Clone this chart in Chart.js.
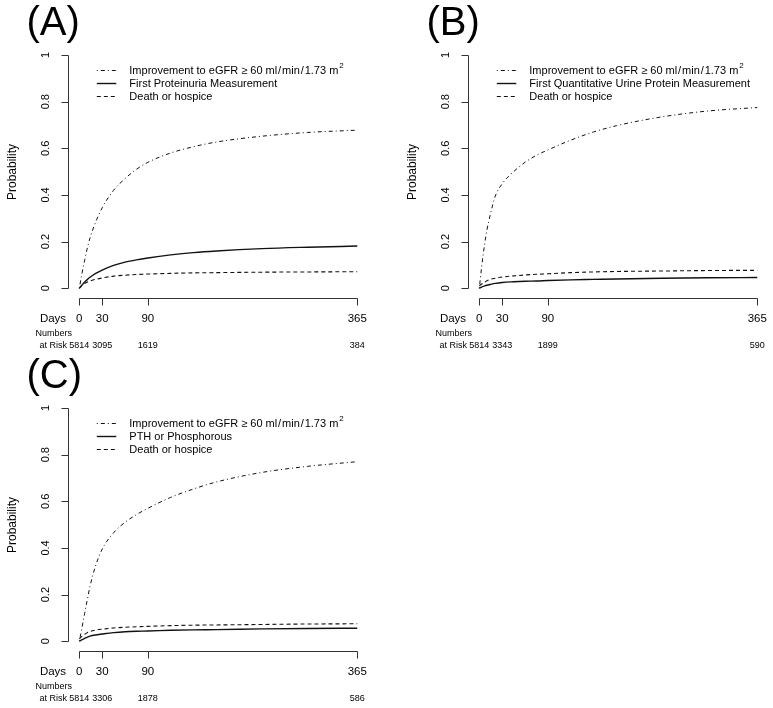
<!DOCTYPE html>
<html>
<head>
<meta charset="utf-8">
<script src="https://cdn.jsdelivr.net/npm/chart.js@4.4.1/dist/chart.umd.min.js"></script>
<style>
  body { margin: 0; background: #fff; }
  #wrap { position: relative; width: 773px; height: 708px; background: #fff; }
  canvas { position: absolute; }
</style>
</head>
<body>
<div id="wrap">
  <canvas id="panelA" width="390" height="353" style="left:0;top:0"></canvas>
  <canvas id="panelB" width="383" height="353" style="left:390px;top:0"></canvas>
  <canvas id="panelC" width="390" height="355" style="left:0;top:353px"></canvas>
</div>
<script>
// --- Data ---
const days = [0, 3, 7, 10, 14, 21, 30, 45, 60, 75, 90, 120, 150, 180, 240, 300, 365];
const dayTicks = [0, 30, 90, 365];
const probTicks = [0, 0.2, 0.4, 0.6, 0.8, 1];

const improveA = [0, 0.055, 0.12, 0.165, 0.215, 0.28, 0.345, 0.42, 0.47, 0.51, 0.54, 0.58, 0.607, 0.627, 0.652, 0.668, 0.678];
const proteinA = [0, 0.012, 0.027, 0.036, 0.047, 0.063, 0.078, 0.098, 0.112, 0.122, 0.13, 0.143, 0.153, 0.16, 0.17, 0.176, 0.181];
const deathA   = [0, 0.01, 0.02, 0.026, 0.031, 0.038, 0.044, 0.052, 0.056, 0.059, 0.061, 0.064, 0.066, 0.067, 0.069, 0.070, 0.071];
const atRiskA  = [5814, 3095, 1619, 384];

const improveB = [0, 0.09, 0.19, 0.25, 0.31, 0.395, 0.448, 0.50, 0.54, 0.57, 0.593, 0.635, 0.67, 0.697, 0.735, 0.76, 0.775];
const urineB   = [0, 0.005, 0.01, 0.013, 0.016, 0.021, 0.025, 0.028, 0.030, 0.031, 0.033, 0.036, 0.038, 0.040, 0.043, 0.045, 0.046];
const deathB   = [0.01, 0.018, 0.026, 0.032, 0.038, 0.043, 0.048, 0.053, 0.057, 0.060, 0.062, 0.067, 0.070, 0.072, 0.074, 0.076, 0.077];
const atRiskB  = [5814, 3343, 1899, 590];

const improveC = [0, 0.05, 0.12, 0.17, 0.235, 0.32, 0.395, 0.465, 0.51, 0.543, 0.57, 0.617, 0.653, 0.683, 0.724, 0.75, 0.77];
const pthC     = [0, 0.006, 0.012, 0.017, 0.022, 0.027, 0.031, 0.037, 0.041, 0.043, 0.044, 0.047, 0.049, 0.050, 0.053, 0.055, 0.056];
const deathC   = [0.01, 0.02, 0.03, 0.036, 0.042, 0.048, 0.052, 0.057, 0.060, 0.062, 0.064, 0.067, 0.069, 0.070, 0.072, 0.074, 0.075];
const atRiskC  = [5814, 3306, 1878, 586];

const improveLabel = 'Improvement to eGFR \u2265 60 ml\u200a/\u200amin\u200a/\u200a1.73 m\u00b2';
const deathLabel = 'Death or hospice';

const FONT = '"Liberation Sans", Arial, Helvetica, sans-serif';
const DOTDASH = [1, 3, 4, 3];
const DASHED = [4, 3];

// --- R-style axes, legend and labels drawn from the chart scales ---
const rAxes = {
    id: 'rAxes',
    afterDraw(chart, args, opts) {
        const ctx = chart.ctx;
        const xs = chart.scales.x, ys = chart.scales.y;
        const area = chart.chartArea;
        const axX = Math.round(area.left) + 0.5;
        const axY = Math.round(area.bottom) + 0.5;
        ctx.save();
        ctx.strokeStyle = '#333';
        ctx.fillStyle = '#000';
        ctx.lineWidth = 1;
        ctx.setLineDash([]);

        // y axis
        const yTop = Math.round(ys.getPixelForValue(probTicks[probTicks.length - 1])) + 0.5;
        const yBot = Math.round(ys.getPixelForValue(probTicks[0])) + 0.5;
        ctx.beginPath();
        ctx.moveTo(axX, yBot); ctx.lineTo(axX, yTop);
        probTicks.forEach(v => {
            const py = Math.round(ys.getPixelForValue(v)) + 0.5;
            ctx.moveTo(axX, py); ctx.lineTo(axX - 7, py);
        });
        ctx.stroke();
        ctx.font = '11px ' + FONT;
        ctx.textAlign = 'center';
        ctx.textBaseline = 'middle';
        probTicks.forEach(v => {
            ctx.save();
            ctx.translate(axX - 23, ys.getPixelForValue(v));
            ctx.rotate(-Math.PI / 2);
            ctx.fillText(String(v), 0, 0);
            ctx.restore();
        });
        ctx.save();
        ctx.font = '12px ' + FONT;
        ctx.translate(axX - 56, (yTop + yBot) / 2);
        ctx.rotate(-Math.PI / 2);
        ctx.fillText('Probability', 0, 0);
        ctx.restore();

        // x axis
        const xL = Math.round(xs.getPixelForValue(dayTicks[0])) + 0.5;
        const xR = Math.round(xs.getPixelForValue(dayTicks[dayTicks.length - 1])) + 0.5;
        ctx.beginPath();
        ctx.moveTo(xL, axY); ctx.lineTo(xR, axY);
        dayTicks.forEach(d => {
            const px = Math.round(xs.getPixelForValue(d)) + 0.5;
            ctx.moveTo(px, axY); ctx.lineTo(px, axY + 7);
        });
        ctx.stroke();
        ctx.font = '11.5px ' + FONT;
        dayTicks.forEach(d => ctx.fillText(String(d), xs.getPixelForValue(d), axY + 20.5));
        ctx.fillText('Days', axX - 15.5, axY + 20.5);

        // numbers at risk
        ctx.font = '9px ' + FONT;
        ctx.textAlign = 'left';
        ctx.fillText('Numbers', axX - 33, axY + 35.5);
        ctx.fillText('at Risk', axX - 29, axY + 47);
        ctx.textAlign = 'center';
        opts.atRisk.forEach((n, i) => ctx.fillText(String(n), xs.getPixelForValue(dayTicks[i]), axY + 47));

        // legend
        const x0 = xs.getPixelForValue(0);
        chart.data.datasets.forEach((ds, i) => {
            const ly = Math.round(area.top + 24.5 + i * 13) + 0.5;
            ctx.save();
            ctx.strokeStyle = '#111';
            ctx.lineWidth = ds.borderWidth;
            ctx.setLineDash(ds.borderDash || []);
            ctx.beginPath();
            ctx.moveTo(x0 + 17.5, ly); ctx.lineTo(x0 + 37, ly);
            ctx.stroke();
            ctx.restore();
            ctx.font = '11px ' + FONT;
            ctx.textAlign = 'left';
            let txt = ds.label;
            if (txt.endsWith('\u00b2')) {
                txt = txt.slice(0, -1);
                ctx.fillText(txt, x0 + 50, ly);
                const w = ctx.measureText(txt).width;
                ctx.font = '8px ' + FONT;
                ctx.fillText('2', x0 + 51 + w, ly - 4.5);
            } else {
                ctx.fillText(txt, x0 + 50, ly);
            }
        });

        // panel tag
        ctx.font = '40px ' + FONT;
        ctx.textAlign = 'left';
        ctx.textBaseline = 'alphabetic';
        ctx.fillText(opts.tag, axX - 42, area.top - 10.5);
        ctx.restore();
    }
};

function series(label, values, dash, width) {
    return {
        label: label,
        data: days.map((d, i) => ({ x: d, y: values[i] })),
        borderColor: '#111',
        borderWidth: width,
        borderDash: dash,
        pointRadius: 0,
        fill: false,
        cubicInterpolationMode: 'monotone'
    };
}

function makePanel(id, tag, datasets, atRisk, padding) {
    new Chart(document.getElementById(id), {
        type: 'line',
        data: { datasets: datasets },
        options: {
            responsive: false,
            animation: false,
            layout: { padding: padding },
            scales: {
                x: { type: 'linear', min: -14.6, max: 379.6, display: false },
                y: { min: -0.04, max: 1.04, display: false }
            },
            plugins: {
                legend: { display: false },
                tooltip: { enabled: false },
                rAxes: { tag: tag, atRisk: atRisk }
            }
        },
        plugins: [rAxes]
    });
}

makePanel('panelA', '(A)', [
    series(improveLabel, improveA, DOTDASH, 1),
    series('First Proteinuria Measurement', proteinA, [], 1.4),
    series(deathLabel, deathA, DASHED, 1.1)
], atRiskA, { left: 68.2, right: 21.6, top: 45.7, bottom: 55.4 });

makePanel('panelB', '(B)', [
    series(improveLabel, improveB, DOTDASH, 1),
    series('First Quantitative Urine Protein Measurement', urineB, [], 1.4),
    series(deathLabel, deathB, DASHED, 1.1)
], atRiskB, { left: 78.2, right: 4.6, top: 45.7, bottom: 55.4 });

makePanel('panelC', '(C)', [
    series(improveLabel, improveC, DOTDASH, 1),
    series('PTH or Phosphorous', pthC, [], 1.4),
    series(deathLabel, deathC, DASHED, 1.1)
], atRiskC, { left: 68.2, right: 21.6, top: 45.7, bottom: 57.4 });
</script>
</body>
</html>
